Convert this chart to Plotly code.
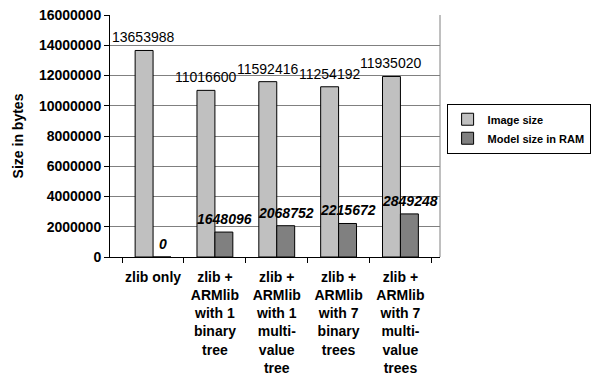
import plotly.graph_objects as go

categories = [
    "zlib only",
    "zlib +<br>ARMlib<br>with 1<br>binary<br>tree",
    "zlib +<br>ARMlib<br>with 1<br>multi-<br>value<br>tree",
    "zlib +<br>ARMlib<br>with 7<br>binary<br>trees",
    "zlib +<br>ARMlib<br>with 7<br>multi-<br>value<br>trees",
]
image_size = [13653988, 11016600, 11592416, 11254192, 11935020]
model_size = [0, 1648096, 2068752, 2215672, 2849248]
y_ticks = [0, 2000000, 4000000, 6000000, 8000000, 10000000, 12000000, 14000000, 16000000]

FONT = "Liberation Sans, Arial, Helvetica, sans-serif"
BARGAP = 0.42
PLOT_W = 330  # plot area width in px (595 - 110 - 155)
bar_px = PLOT_W / len(categories) * (1 - BARGAP) / 2

fig = go.Figure()
fig.add_trace(go.Bar(
    name="<b>Image size</b>", x=categories, y=image_size,
    marker=dict(color="#c0c0c0", line=dict(color="black", width=1)),
))
fig.add_trace(go.Bar(
    name="<b>Model size in RAM</b>", x=categories, y=model_size,
    marker=dict(color="#808080", line=dict(color="black", width=1)),
))

# data labels, anchored on the bars through the axes
for c, v in zip(categories, image_size):
    fig.add_annotation(x=c, y=v, xref="x", yref="y", text=str(v), showarrow=False,
                       xshift=-bar_px / 2, yshift=3, yanchor="bottom",
                       font=dict(family=FONT, size=14, color="black"))
for c, v in zip(categories, model_size):
    fig.add_annotation(x=c, y=v, xref="x", yref="y", text=f"<b><i>{v}</i></b>", showarrow=False,
                       xshift=bar_px / 2, yshift=3, yanchor="bottom",
                       font=dict(family=FONT, size=14, color="black"))

fig.update_layout(
    width=595, height=380,
    margin=dict(l=110, r=155, t=15, b=123, autoexpand=False),
    paper_bgcolor="white", plot_bgcolor="white",
    barmode="group", bargap=BARGAP, bargroupgap=0,
    font=dict(family=FONT, color="black"),
    showlegend=True,
    legend=dict(
        x=1.02, y=0.53, xanchor="left", yanchor="middle",
        bordercolor="black", borderwidth=1,
        font=dict(family=FONT, size=11, color="black"),
        itemwidth=30, tracegroupgap=0,
    ),
    xaxis=dict(
        showline=True, linecolor="black", linewidth=1,
        ticks="outside", tickson="boundaries", ticklen=5, tickcolor="black",
        tickfont=dict(family=FONT, size=14, color="black"),
        tickprefix="<b>", ticksuffix="</b>",
        showgrid=False, tickangle=0, ticklabelstandoff=7,
    ),
    yaxis=dict(
        range=[0, 16000000], tickvals=y_ticks, ticktext=[f"<b>{v}</b>" for v in y_ticks],
        showline=True, linecolor="black", linewidth=1,
        ticks="outside", ticklen=5, tickcolor="black",
        tickfont=dict(family=FONT, size=14, color="black"),
        showgrid=True, gridcolor="#808080", gridwidth=1,
        zeroline=False,
        title=dict(text="<b>Size in bytes</b>", font=dict(family=FONT, size=14, color="black"), standoff=12),
    ),
)
fig.add_shape(type="line", xref="paper", yref="paper", x0=1, x1=1, y0=0, y1=1,
              line=dict(color="#808080", width=1))

fig.write_html("out.html")
